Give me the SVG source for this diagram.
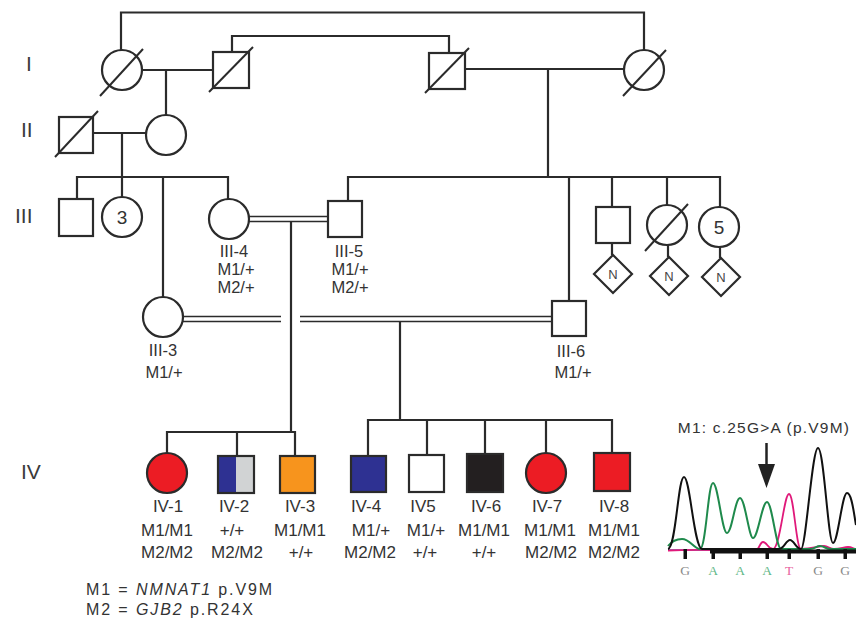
<svg xmlns="http://www.w3.org/2000/svg" width="856" height="623" viewBox="0 0 856 623">
<style>
.ln{stroke:#2b2b2b;stroke-width:2.2;fill:none}
.dl{stroke:#2b2b2b;stroke-width:1.7;fill:none}
.nd{stroke:#2b2b2b;stroke-width:2.2;fill:#fff}
.sl{stroke:#2b2b2b;stroke-width:2}
.gen{font-family:"Liberation Sans",Arial,sans-serif;font-size:21px;fill:#3a3a3a}
.lb{font-family:"Liberation Sans",Arial,sans-serif;font-size:17px;fill:#333;text-anchor:middle}
.lb3{font-family:"Liberation Sans",Arial,sans-serif;font-size:16.5px;fill:#333;text-anchor:middle}
.num{font-family:"Liberation Sans",Arial,sans-serif;font-size:19px;fill:#333;text-anchor:middle}
.nn{font-family:"Liberation Sans",Arial,sans-serif;font-size:13px;fill:#444;text-anchor:middle}
.leg{font-family:"Liberation Sans",Arial,sans-serif;font-size:16px;fill:#333;letter-spacing:1.9px}
.base{font-family:"Liberation Serif","Times New Roman",serif;font-size:13.5px;text-anchor:middle}
</style>
<rect x="0" y="0" width="856" height="623" fill="#fff"/>

<g id="generations">
<text class="gen" x="26" y="71">I</text>
<text class="gen" x="21" y="137">II</text>
<text class="gen" x="15" y="223">III</text>
<text class="gen" x="21" y="479">IV</text>
</g>

<g id="connectors">
<path class="ln" d="M121,50 V12.5 H644 V50"/>
<path class="ln" d="M232,52 V36 H449 V53"/>
<path class="ln" d="M142,70 H213 M166,70 V115"/>
<path class="ln" d="M465,69 H624 M548,69 V177"/>
<path class="ln" d="M93,133 H146 M122,133 V197"/>
<path class="ln" d="M77,199 V177 H228 V199 M163,177 V297"/>
<path class="dl" d="M249,216.5 H328 M249,221.5 H328"/>
<path class="ln" d="M291,221.5 V432"/>
<path class="ln" d="M348,201 V177 H720 V207 M569,177 V301 M612,177 V207 M667,177 V205"/>
<path class="ln" d="M612,243 V255 M668,245 V257 M720,247 V258"/>
<path class="dl" d="M183,316.5 H281 M183,321.5 H281 M300,316.5 H552 M300,321.5 H552"/>
<path class="ln" d="M400,321.5 V420"/>
<path class="ln" d="M167,453 V432 H295 V456 M237,432 V456"/>
<path class="ln" d="M368,456 V420 H612 V453 M427,420 V455 M485,420 V454 M546,420 V453"/>
</g>

<g id="I-1"><circle class="nd" cx="122" cy="70" r="20"/><line class="sl" x1="100" y1="96" x2="143" y2="49"/></g>
<g id="I-2"><rect class="nd" x="213" y="52" width="36" height="36"/><line class="sl" x1="209" y1="92" x2="253" y2="47"/></g>
<g id="I-3"><rect class="nd" x="429" y="53" width="36" height="36"/><line class="sl" x1="425" y1="93" x2="469" y2="48"/></g>
<g id="I-4"><circle class="nd" cx="644" cy="70" r="20"/><line class="sl" x1="623" y1="96" x2="666" y2="50"/></g>

<g id="II-1"><rect class="nd" x="59" y="117" width="34" height="36"/><line class="sl" x1="55" y1="157" x2="98" y2="111"/></g>
<g id="II-2"><circle class="nd" cx="166" cy="135" r="20"/></g>

<g id="III-1"><rect class="nd" x="59" y="199" width="34" height="37"/></g>
<g id="III-2"><circle class="nd" cx="122" cy="217" r="20"/><text class="num" x="122" y="224">3</text></g>
<g id="III-3"><circle class="nd" cx="163" cy="317" r="20"/>
<text class="lb3" x="163" y="356">III-3</text><text class="lb3" x="164" y="378">M1/+</text></g>
<g id="III-4"><circle class="nd" cx="229" cy="219" r="20"/>
<text class="lb3" x="234" y="257">III-4</text><text class="lb3" x="236" y="275">M1/+</text><text class="lb3" x="236" y="293">M2/+</text></g>
<g id="III-5"><rect class="nd" x="328" y="201" width="34" height="36"/>
<text class="lb3" x="349" y="257">III-5</text><text class="lb3" x="350" y="275">M1/+</text><text class="lb3" x="350" y="293">M2/+</text></g>
<g id="III-6"><rect class="nd" x="552" y="301" width="34" height="35"/>
<text class="lb3" x="571" y="357">III-6</text><text class="lb3" x="573" y="378">M1/+</text></g>
<g id="III-7"><rect class="nd" x="596" y="207" width="34" height="36"/></g>
<g id="III-7-N"><polygon class="nd" points="613,255 632,274 613,293 594,274"/><text class="nn" x="613" y="279">N</text></g>
<g id="III-8"><circle class="nd" cx="667" cy="225" r="20"/><line class="sl" x1="645" y1="251" x2="688" y2="204"/></g>
<g id="III-8-N"><polygon class="nd" points="669,257 688,276 669,295 650,276"/><text class="nn" x="669" y="281">N</text></g>
<g id="III-9"><circle class="nd" cx="719" cy="227" r="20"/><text class="num" x="719" y="234">5</text></g>
<g id="III-9-N"><polygon class="nd" points="721,258 740,277 721,296 702,277"/><text class="nn" x="721" y="282">N</text></g>

<g id="IV-1"><circle class="nd" cx="167" cy="473" r="20" style="fill:#ec1c24"/>
<text class="lb" x="168" y="512">IV-1</text><text class="lb" x="167" y="536">M1/M1</text><text class="lb" x="167" y="558">M2/M2</text></g>
<g id="IV-2"><rect x="218" y="456" width="18" height="37" fill="#2e3192"/><rect x="236" y="456" width="18" height="37" fill="#d1d3d4"/>
<rect x="218" y="456" width="36" height="37" fill="none" stroke="#2b2b2b" stroke-width="2.2"/>
<text class="lb" x="234" y="512">IV-2</text><text class="lb" x="232" y="536">+/+</text><text class="lb" x="237" y="558">M2/M2</text></g>
<g id="IV-3"><rect class="nd" x="280" y="456" width="35" height="37" style="fill:#f7941d"/>
<text class="lb" x="300" y="512">IV-3</text><text class="lb" x="300" y="536">M1/M1</text><text class="lb" x="301" y="558">+/+</text></g>
<g id="IV-4"><rect class="nd" x="351" y="456" width="35" height="36" style="fill:#2e3192"/>
<text class="lb" x="366" y="512">IV-4</text><text class="lb" x="371" y="536">M1/+</text><text class="lb" x="370" y="558">M2/M2</text></g>
<g id="IV-5"><rect class="nd" x="409" y="455" width="35" height="37"/>
<text class="lb" x="423" y="512">IV5</text><text class="lb" x="426" y="536">M1/+</text><text class="lb" x="425" y="558">+/+</text></g>
<g id="IV-6"><rect class="nd" x="467" y="454" width="36" height="38" style="fill:#231f20"/>
<text class="lb" x="486" y="512">IV-6</text><text class="lb" x="484" y="536">M1/M1</text><text class="lb" x="484" y="558">+/+</text></g>
<g id="IV-7"><circle class="nd" cx="546" cy="473" r="20" style="fill:#ec1c24"/>
<text class="lb" x="547" y="512">IV-7</text><text class="lb" x="550" y="536">M1/M1</text><text class="lb" x="551" y="558">M2/M2</text></g>
<g id="IV-8"><rect class="nd" x="594" y="453" width="36" height="38" style="fill:#ec1c24"/>
<text class="lb" x="614" y="512">IV-8</text><text class="lb" x="614" y="536">M1/M1</text><text class="lb" x="614" y="558">M2/M2</text></g>

<g id="legend">
<text class="leg" x="86" y="595">M1 = <tspan font-style="italic">NMNAT1</tspan> p.V9M</text>
<text class="leg" x="86" y="615">M2 = <tspan font-style="italic">GJB2</tspan> p.R24X</text>
</g>

<g id="chromatogram">
<text x="764" y="433" font-family="Liberation Sans, Arial, sans-serif" font-size="15.5" fill="#333" text-anchor="middle" letter-spacing="1.2">M1: c.25G&gt;A (p.V9M)</text>
<line x1="766.5" y1="443" x2="766.5" y2="468" stroke="#222" stroke-width="2.5"/>
<polygon points="758,464 775,464 766.5,488" fill="#222"/>
<path d="M668,550 L710,550" stroke="#4a6fb5" stroke-width="1.3" fill="none"/>
<path d="M668,550.5 C700,549 740,551 756,550 C759,550 760,542 763,542 C767,542 768,549 773,549 C780,549 784,494 789,494 C794,494 796,549 801,549 C812,549 818,546 824,546 C828,546 830,549 834,549 C840,549 844,547 848,547 C852,547 854,549 856,549" stroke="#e0197a" stroke-width="1.8" fill="none"/>
<path d="M668,546 C672,541 676,539 682,539 C690,539 694,549 700,549 C706,549 708,483 713,483 C718,483 722,533 727,533 C732,533 735,498 740,498 C745,498 749,538 753,538 C758,538 762,502 767,502 C772,502 776,548 781,549 L810,549 C815,549 816,546 820,546 C824,546 826,549 830,549 L856,549" stroke="#1f8a4c" stroke-width="2" fill="none"/>
<path d="M668,549 C676,548 678,477 684,477 C690,477 694,548 702,549 L779,549 C784,549 786,540 790,540 C794,540 796,549 801,549 C806,549 812,448 818,448 C824,448 828,543 833,543 C838,543 842,493 847,493 C852,493 854,515 856,525" stroke="#111" stroke-width="2" fill="none"/>
<rect x="710" y="549.5" width="146" height="4" fill="#111"/>
<g fill="#111">
<rect x="683.5" y="549" width="3.5" height="10"/>
<rect x="711.5" y="549" width="3.5" height="10"/>
<rect x="738.5" y="549" width="3.5" height="10"/>
<rect x="765.5" y="549" width="3.5" height="10"/>
<rect x="787.5" y="549" width="3.5" height="10"/>
<rect x="816.5" y="549" width="3.5" height="10"/>
<rect x="843.5" y="549" width="3.5" height="10"/>
</g>
<text class="base" x="685" y="575" fill="#8a8a8a">G</text>
<text class="base" x="713" y="575" fill="#5fb888">A</text>
<text class="base" x="740" y="575" fill="#5fb888">A</text>
<text class="base" x="767" y="575" fill="#5fb888">A</text>
<text class="base" x="789" y="575" fill="#e8649e">T</text>
<text class="base" x="818" y="575" fill="#8a8a8a">G</text>
<text class="base" x="845" y="575" fill="#8a8a8a">G</text>
</g>
</svg>
